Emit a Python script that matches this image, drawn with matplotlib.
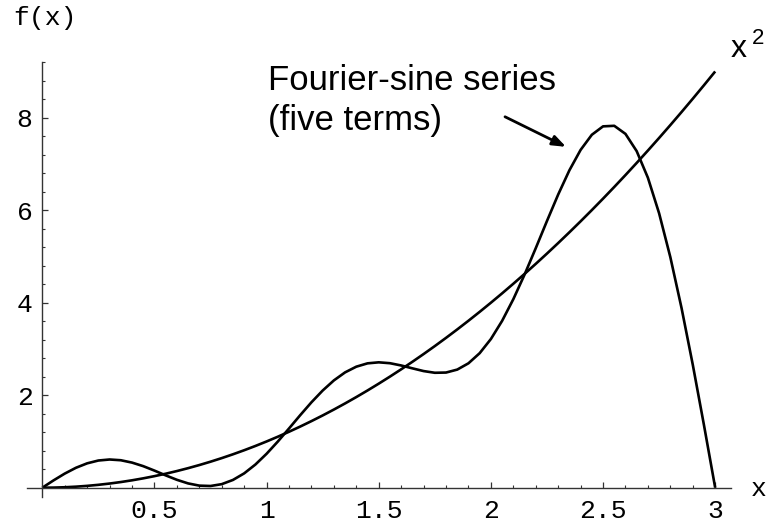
import matplotlib
matplotlib.use("Agg")
import matplotlib.pyplot as plt
from matplotlib.ticker import FixedLocator

# sample positions (x)
x_vals = [0.00, 0.05, 0.10, 0.15, 0.20, 0.25, 0.30, 0.35, 0.40, 0.45,
          0.50, 0.55, 0.60, 0.65, 0.70, 0.75, 0.80, 0.85, 0.90, 0.95,
          1.00, 1.05, 1.10, 1.15, 1.20, 1.25, 1.30, 1.35, 1.40, 1.45,
          1.50, 1.55, 1.60, 1.65, 1.70, 1.75, 1.80, 1.85, 1.90, 1.95,
          2.00, 2.05, 2.10, 2.15, 2.20, 2.25, 2.30, 2.35, 2.40, 2.45,
          2.50, 2.55, 2.60, 2.65, 2.70, 2.75, 2.80, 2.85, 2.90, 2.95,
          3.00]

# the x^2 curve
parabola = [0.00, 0.0025, 0.01, 0.0225, 0.04, 0.0625, 0.09, 0.1225, 0.16, 0.2025,
            0.25, 0.3025, 0.36, 0.4225, 0.49, 0.5625, 0.64, 0.7225, 0.81, 0.9025,
            1.00, 1.1025, 1.21, 1.3225, 1.44, 1.5625, 1.69, 1.8225, 1.96, 2.1025,
            2.25, 2.4025, 2.56, 2.7225, 2.89, 3.0625, 3.24, 3.4225, 3.61, 3.8025,
            4.00, 4.2025, 4.41, 4.6225, 4.84, 5.0625, 5.29, 5.5225, 5.76, 6.0025,
            6.25, 6.5025, 6.76, 7.0225, 7.29, 7.5625, 7.84, 8.1225, 8.41, 8.7025,
            9.00]

# the five-term Fourier-sine series curve
fourier = [0.000, 0.158, 0.305, 0.431, 0.527, 0.588, 0.610, 0.594, 0.543, 0.466,
           0.370, 0.267, 0.171, 0.093, 0.045, 0.037, 0.077, 0.168, 0.310, 0.501,
           0.734, 0.998, 1.281, 1.569, 1.847, 2.101, 2.320, 2.494, 2.617, 2.689,
           2.711, 2.692, 2.643, 2.581, 2.522, 2.485, 2.490, 2.554, 2.690, 2.909,
           3.215, 3.607, 4.076, 4.607, 5.179, 5.767, 6.339, 6.863, 7.304, 7.631,
           7.813, 7.825, 7.650, 7.277, 6.702, 5.933, 4.986, 3.885, 2.662, 1.353,
           0.000]

x_major = [0.5, 1.0, 1.5, 2.0, 2.5, 3.0]
x_major_labels = ["0.5", "1", "1.5", "2", "2.5", "3"]
y_major = [2, 4, 6, 8]
y_major_labels = ["2", "4", "6", "8"]

MONO = "Liberation Mono"
SANS = "Liberation Sans"

fig = plt.figure(figsize=(7.67, 5.23), dpi=100)
ax = fig.add_axes([0, 0, 1, 1])
ax.patch.set_alpha(0)

# map so that x=0 -> px 42.3, x=3 -> px 715; y=0 -> py 487.7, y=8 -> py 117.7
ax.set_xlim(-0.1886, 3.231)
ax.set_ylim(-0.763, 10.545)

ax.plot(x_vals, parabola, color="black", lw=1.9, solid_capstyle="butt")
ax.plot(x_vals, fourier, color="black", lw=1.9, solid_capstyle="butt")

for side in ("top", "right"):
    ax.spines[side].set_visible(False)
ax.spines["left"].set_position(("data", 0))
ax.spines["bottom"].set_position(("data", 0))
ax.spines["left"].set_bounds(-0.2, 9.2)
ax.spines["bottom"].set_bounds(-0.07, 3.07)
for side in ("left", "bottom"):
    ax.spines[side].set_color("#333333")
    ax.spines[side].set_linewidth(1.0)

ax.xaxis.set_major_locator(FixedLocator(x_major))
ax.set_xticklabels(x_major_labels)
ax.yaxis.set_major_locator(FixedLocator(y_major))
ax.set_yticklabels(y_major_labels)
ax.xaxis.set_minor_locator(FixedLocator([i / 10 for i in range(1, 31)]))
ax.yaxis.set_minor_locator(FixedLocator([i * 0.4 for i in range(1, 24)]))

ax.tick_params(which="major", direction="in", length=4.0, width=0.9, color="#333333")
ax.tick_params(which="minor", direction="in", length=2.2, width=0.8, color="#333333")
ax.tick_params(axis="x", which="major", pad=8)
ax.tick_params(axis="y", which="major", pad=7)
for lab in ax.get_xticklabels() + ax.get_yticklabels():
    lab.set_fontfamily(MONO)
    lab.set_fontsize(19)
    lab.set_color("black")

ax.text(-0.1306, 10.15, "f(x)", family=MONO, fontsize=19, ha="left", va="center")
ax.text(3.158, -0.03, "x", family=MONO, fontsize=19, ha="left", va="center")

ax.text(1.006, 8.6, "Fourier-sine series", family=SANS, fontsize=25,
        ha="left", va="baseline")
ax.text(1.006, 7.73, "(five terms)", family=SANS, fontsize=25,
        ha="left", va="baseline")
ax.annotate("", xy=(2.335, 7.37), xytext=(2.063, 8.02),
            arrowprops=dict(arrowstyle="-|>,head_length=0.8,head_width=0.3",
                            color="black", lw=2.0, shrinkA=0, shrinkB=0))

ax.text(3.069, 9.32, "x", family=SANS, fontsize=23, ha="left", va="baseline")
ax.text(3.164, 9.59, "2", family=SANS, fontsize=16, ha="left", va="baseline")

fig.savefig("out.png", dpi=100)
